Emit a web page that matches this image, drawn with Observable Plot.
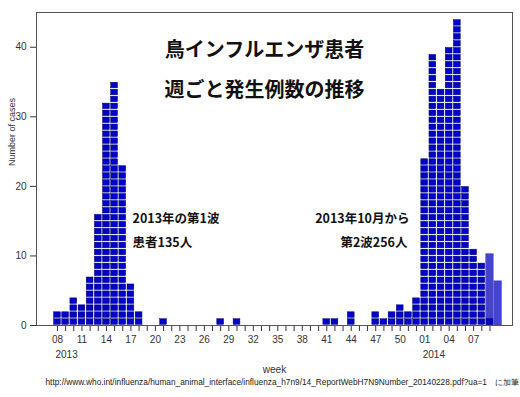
<!DOCTYPE html>
<html><head><meta charset="utf-8">
<script src="https://cdn.jsdelivr.net/npm/d3@7"></script>
<script src="https://cdn.jsdelivr.net/npm/@observablehq/plot@0.6"></script>
<style>body{margin:0;background:#fff} svg{display:block}</style>
</head><body><div id="chart"></div>
<script>
// weeks from 2013-W08 to 2014-W09
const weekLabels = ["08","09","10","11","12","13","14","15","16","17","18","19","20","21","22","23","24","25","26","27","28","29","30","31","32","33","34","35","36","37","38","39","40","41","42","43","44","45","46","47","48","49","50","51","52",
  "01","02","03","04","05","06","07","08","09"];
const cases = [2,2,4,3,7,16,32,35,23,6,2,0,0,1,0,0,0,0,0,0,1,0,1,0,0,0,0,0,0,0,0,0,0,1,1,0,2,0,0,2,1,2,3,2,4,
  24,39,34,40,44,20,11,9,1];
const yearLabels = ["2013","2014"];
const yearStartWeek = [0,45];
// author's added (estimated) bars for 2014-W09 and W10
const addedWeekIndex = [53,54];
const addedValues = [10.3,6.4];
const yTicks = [0,10,20,30,40];
const titleLines = ["鳥インフルエンザ患者","週ごと発生例数の推移"];
const note1 = ["2013年の第1波","患者135人"];
const note2 = ["2013年10月から","第2波256人"];
const caption = "http://www.who.int/influenza/human_animal_interface/influenza_h7n9/14_ReportWebH7N9Number_20140228.pdf?ua=1　に加筆";

const cells = [];
cases.forEach((c,i)=>{for(let k=0;k<c;k++) cells.push({i,k});});
const added = addedValues.map((v,j)=>({i:addedWeekIndex[j], v}));
const jp = "'Noto Sans CJK JP', 'Noto Sans', sans-serif";
const jpText = (t, o) => Plot.text([t], {fontFamily:jp, fontWeight:"bold", fill:"#111", lineAnchor:"middle", ...o});

const plot = Plot.plot({
  width:520, height:397,
  marginLeft:36, marginRight:8, marginTop:12, marginBottom:72,
  style:{fontFamily:"'Liberation Sans', Arial, sans-serif", background:"#fff", color:"#333"},
  x:{type:"linear", domain:[-2.57,55.76], axis:null},
  y:{domain:[0,45], axis:null},
  marks:[
    Plot.rect(added, {x1:d=>d.i-0.5, x2:d=>d.i+0.5, y1:0, y2:"v", fill:"#4444cc"}),
    Plot.rect(cells, {x1:d=>d.i-0.5, x2:d=>d.i+0.5, y1:"k", y2:d=>d.k+1, fill:"#0000c8", stroke:"#000070", strokeWidth:0.5, inset:0.7}),
    Plot.frame({stroke:"#555"}),
    Plot.axisY(yTicks, {tickSize:6, tickPadding:4, fontSize:10, label:null, stroke:"#333"}),
    Plot.axisX(d3.range(weekLabels.length), {tickSize:6, tickFormat:()=>"", label:null, stroke:"#333"}),
    Plot.axisX(d3.range(0, weekLabels.length, 3), {tickSize:0, tickPadding:10, fontSize:10, tickFormat:i=>weekLabels[i], label:null}),
    Plot.ruleY([0], {stroke:"#555"}),
    Plot.text(yearLabels, {x:(d,j)=>yearStartWeek[j], frameAnchor:"bottom", lineAnchor:"middle", textAnchor:"start", dx:-2, dy:29, fontSize:10, text:d=>d, fill:"#333"}),
    Plot.text(["week"], {frameAnchor:"bottom", lineAnchor:"middle", dy:44, fontSize:10, fill:"#333"}),
    Plot.text(["Number of cases"], {frameAnchor:"left", dx:-24, dy:-3, rotate:-90, fontSize:9, fill:"#333"}),
    jpText(titleLines[0], {frameAnchor:"top", dx:-10, dy:38, fontSize:20}),
    jpText(titleLines[1], {frameAnchor:"top", dx:-10, dy:78, fontSize:20}),
    jpText(note1[0], {frameAnchor:"top-left", textAnchor:"start", dx:96, dy:206, fontSize:12.5}),
    jpText(note1[1], {frameAnchor:"top-left", textAnchor:"start", dx:96, dy:230, fontSize:12.5}),
    jpText(note2[0], {frameAnchor:"top-left", textAnchor:"end", dx:373, dy:206, fontSize:12.5}),
    jpText(note2[1], {frameAnchor:"top-left", textAnchor:"end", dx:371, dy:230, fontSize:12.5}),
    Plot.text([caption], {frameAnchor:"bottom-left", lineAnchor:"middle", textAnchor:"start", dx:9, dy:57, fontSize:8.3, fill:"#222"})
  ]
});
document.getElementById("chart").append(plot);
</script>
</body></html>
